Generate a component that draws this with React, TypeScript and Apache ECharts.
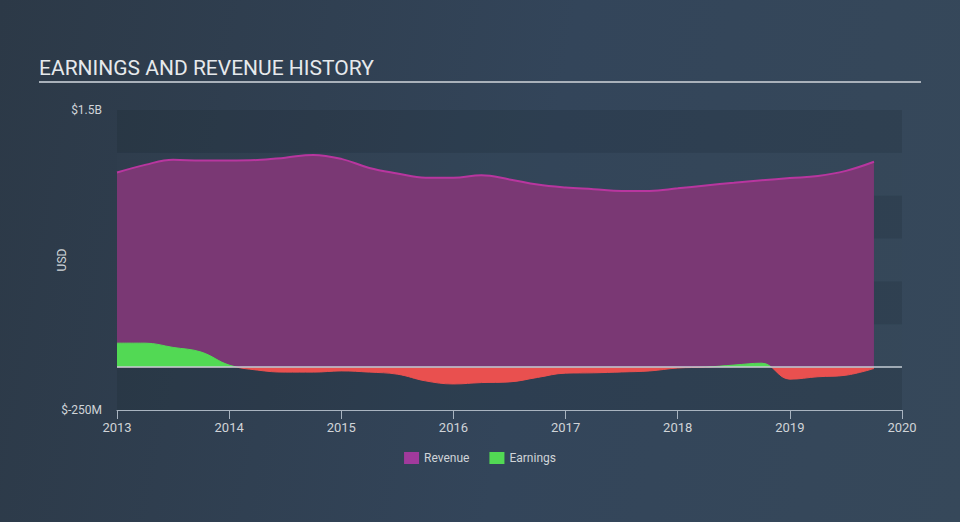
import React, { useEffect, useRef } from "react";
import * as echarts from "echarts";

const periods = [
  2013.0, 2013.25, 2013.5, 2013.75, 2014.0, 2014.25, 2014.5, 2014.75,
  2015.0, 2015.25, 2015.5, 2015.75, 2016.0, 2016.25, 2016.5, 2016.75,
  2017.0, 2017.25, 2017.5, 2017.75, 2018.0, 2018.25, 2018.5, 2018.75,
  2019.0, 2019.25, 2019.5, 2019.75,
];

// values in millions USD
const revenue = [
  1135, 1180, 1210, 1205, 1205, 1208, 1222, 1238,
  1215, 1162, 1130, 1105, 1105, 1120, 1095, 1065,
  1048, 1038, 1027, 1028, 1043, 1060, 1075, 1090,
  1103, 1115, 1145, 1198,
];

const earnings = [
  140, 140, 115, 88, 12, -17, -29, -29,
  -22, -29, -41, -80, -98, -90, -86, -60,
  -35, -33, -28, -22, -5, 0, 12, 23,
  -70, -56, -47, -8,
];

const xRange = [2013, 2020];
const yTickLabels: Record<number, string> = { 1500: "$1.5B", [-250]: "$-250M" };
const legendNames = ["Revenue", "Earnings"];

const GREEN = "#52d954";
const RED = "#e9504f";

export default function App() {
  const ref = useRef<HTMLDivElement>(null);
  useEffect(() => {
    if (!ref.current) return;
    const chart = echarts.init(ref.current, null, { renderer: "svg" });
    const fontFamily = "Roboto, 'Noto Sans', sans-serif";
    chart.setOption({
      animation: false,
      textStyle: { fontFamily },
      grid: { left: 117, right: 58, top: 110, bottom: 112 },
      graphic: [
        {
          type: "text",
          left: 39,
          top: 57,
          style: {
            text: "EARNINGS AND REVENUE HISTORY",
            fill: "#e6e9ec",
            font: "400 21px Roboto, 'Noto Sans', sans-serif",
          },
        },
        {
          type: "line",
          shape: { x1: 39, y1: 82, x2: 921, y2: 82 },
          style: { stroke: "#a9b1ba", lineWidth: 2 },
        },
      ],
      legend: {
        bottom: 53,
        left: "center",
        itemWidth: 15,
        itemHeight: 12,
        itemGap: 20,
        icon: "rect",
        textStyle: { color: "#d0d4d8", fontSize: 12, fontFamily },
        data: [
          { name: legendNames[0], itemStyle: { color: "#a13a9c" } },
          { name: legendNames[1], itemStyle: { color: GREEN } },
        ],
      },
      xAxis: {
        type: "value",
        min: xRange[0],
        max: xRange[1],
        interval: 1,
        axisLine: { show: true, onZero: false, lineStyle: { color: "#a9b4c0", width: 1 } },
        axisTick: { show: true, inside: false, length: 9, lineStyle: { color: "#a9b4c0" } },
        axisLabel: {
          color: "#d0d4d8",
          fontSize: 13,
          margin: 11,
          formatter: (v: number) => String(Math.round(v)),
        },
        splitLine: { show: false },
      },
      yAxis: {
        type: "value",
        min: -250,
        max: 1500,
        interval: 250,
        name: "USD",
        nameLocation: "middle",
        nameGap: 49,
        nameMoveOverlap: false,
        nameRotate: 90,
        nameTextStyle: { color: "#d0d4d8", fontSize: 12 },
        axisLine: { show: false },
        axisTick: { show: false },
        axisLabel: {
          color: "#d0d4d8",
          fontSize: 12,
          margin: 15,
          formatter: (v: number) => yTickLabels[v] ?? "",
        },
        splitLine: { show: false },
        splitArea: {
          show: true,
          areaStyle: { color: ["rgba(20,30,40,0.16)", "rgba(60,75,90,0.10)"] },
        },
      },
      series: [
        {
          name: legendNames[0],
          type: "line",
          data: periods.map((p, i) => [p, revenue[i]]),
          smooth: 0.4,
          showSymbol: false,
          symbol: "none",
          lineStyle: { color: "#b8369f", width: 2 },
          itemStyle: { color: "#a13a9c" },
          areaStyle: { color: "#7a3874", opacity: 1 },
          z: 2,
        },
        {
          name: legendNames[1],
          type: "line",
          data: periods.map((p, i) => [p, earnings[i]]),
          smooth: 0.4,
          showSymbol: false,
          symbol: "none",
          lineStyle: { width: 1, color: GREEN },
          itemStyle: { color: GREEN },
          areaStyle: { opacity: 1, color: GREEN },
          z: 3,
          markLine: {
            silent: true,
            symbol: "none",
            label: { show: false },
            lineStyle: { color: "#c4ccd4", type: "solid", width: 1.5 },
            data: [[{ coord: [xRange[0], 0] }, { coord: [xRange[1], 0] }]],
          },
        },
      ],
    });

    // split the earnings colour at the zero line, using the axis scale
    const zeroY = chart.convertToPixel({ yAxisIndex: 0 }, 0) as number;
    const h = chart.getHeight();
    const t = zeroY / h;
    const grad = () =>
      new echarts.graphic.LinearGradient(
        0, 0, 0, h,
        [
          { offset: 0, color: GREEN },
          { offset: t, color: GREEN },
          { offset: t, color: RED },
          { offset: 1, color: RED },
        ],
        true
      );
    chart.setOption({
      series: [
        {},
        { lineStyle: { color: grad() }, areaStyle: { color: grad() } },
      ],
    });
    return () => chart.dispose();
  }, []);
  return (
    <div
      style={{
        position: "fixed",
        left: 0,
        top: 0,
        width: 960,
        height: 522,
        background: "linear-gradient(100deg, #2c3947 0%, #33455a 55%, #36485a 100%)",
      }}
    >
      <div ref={ref} style={{ width: 960, height: 522 }} />
    </div>
  );
}
